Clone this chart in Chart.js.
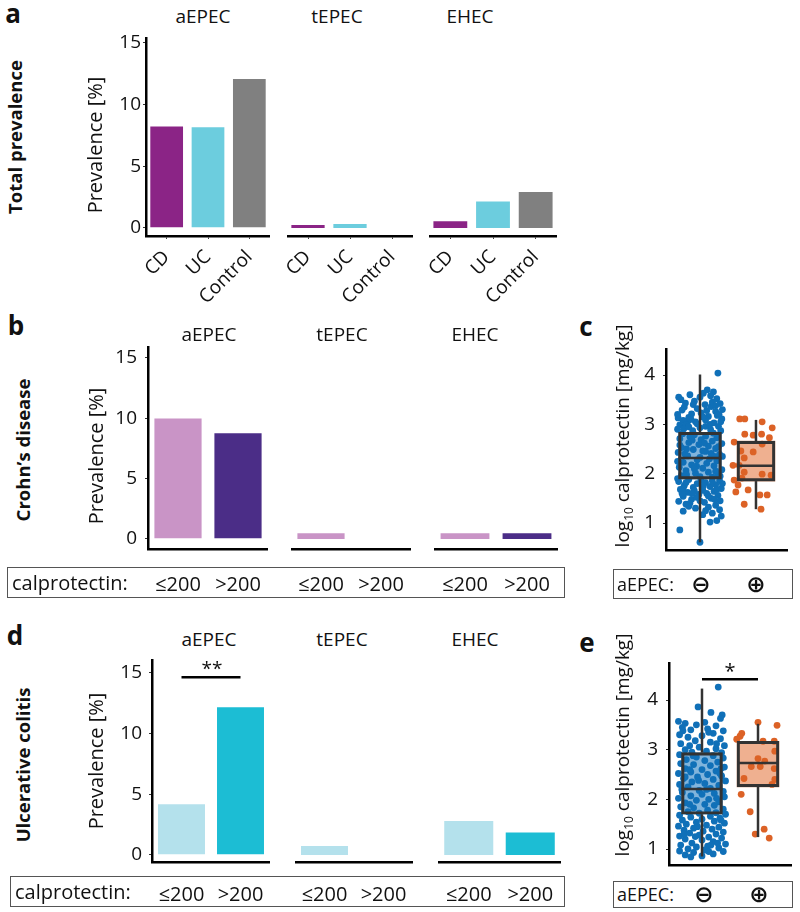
<!DOCTYPE html>
<html><head><meta charset="utf-8">
<script src="https://cdn.jsdelivr.net/npm/chart.js@4.4.0/dist/chart.umd.min.js"></script>
<style>
body{margin:0;width:800px;height:912px;background:#fff;position:relative;font-family:"Open Sans",sans-serif;color:#111;overflow:hidden}
.t{position:absolute;white-space:nowrap;line-height:1}
.c{transform:translate(-50%,-50%)}
.l{transform:translateY(-50%)}
.r{transform:translate(-50%,-50%) rotate(-90deg)}
.bold{font-weight:700}
.box{position:absolute;border:1px solid #555;box-sizing:border-box}
canvas{position:absolute}
.sym{font-family:"DejaVu Sans",sans-serif;font-weight:700;font-size:23px}
</style></head><body>
<script>
// ---------------- DATA ----------------
const pathogens = ['aEPEC', 'tEPEC', 'EHEC'];
const cohortLabels = ['CD', 'UC', 'Control'];
const calproLabels = ['≤200', '>200'];
const prevTicks = [0, 5, 10, 15];
const logTicks = [1, 2, 3, 4];

// panel a: total prevalence [%]
const totalAEPEC = [8.3, 8.24, 12.15];
const totalTEPEC = [0.33, 0.41, 0];
const totalEHEC = [0.63, 2.22, 3.0];

// panel b: Crohn's disease by calprotectin
const cdAEPEC = [10.07, 8.83];
const cdTEPEC = [0.55, 0];
const cdEHEC = [0.55, 0.55];

// panel d: ulcerative colitis by calprotectin
const ucAEPEC = [4.27, 12.25];
const ucTEPEC = [0.83, 0];
const ucEHEC = [2.89, 1.93];
const ucSignifLevel = 14.64;

// panel c / e box statistics: [lower whisker, Q1, median, Q3, upper whisker]
const cdBoxNeg = [0.61, 1.89, 2.32, 2.84, 4.01];
const cdBoxPos = [1.28, 1.85, 2.16, 2.66, 3.09];
const ucBoxNeg = [0.85, 1.70, 2.21, 2.94, 4.23];
const ucBoxPos = [1.24, 2.25, 2.73, 3.17, 3.52];
const ucSignifLog = 4.42;

// jittered observations [jitter, log10 calprotectin]
const cdPointsNeg = [
[0.32,4.04],[-0.38,3.55],[0.06,3.63],[0.13,3.7],[0.24,3.66],[0.19,3.58],[-0.1,3.47],[0.3,3.52],[-0.26,3.43],[0.09,3.4],[0.36,3.42],[-0.34,3.5],[0.0,3.55],[-0.18,3.6],
[-0.05,3.32],[0.2,3.36],[-0.32,3.29],[0.28,3.26],[-0.15,3.21],[0.02,3.23],[0.15,3.16],[-0.39,3.13],[0.39,3.11],[-0.22,3.06],[0.1,3.09],[0.25,3.03],[-0.05,3.01],[-0.36,2.99],[0.33,2.96],[-0.28,3.35],[0.4,3.3],[-0.12,3.4],[0.22,3.45],[-0.4,3.2],[0.05,3.15],[0.31,3.18],[-0.2,3.14],[-0.08,3.05],[0.18,3.0],[-0.3,3.08],[0.12,3.28],[-0.25,3.0],[0.37,3.05],[0.28,3.38],
[0.0,2.93],[-0.29,2.91],[0.19,2.89],[-0.13,2.87],[0.37,2.87],[-0.4,2.9],[0.1,2.96],[-0.2,2.95],
[-0.31,2.81],[-0.1,2.79],[0.1,2.76],[0.3,2.73],[-0.36,2.71],[0.02,2.69],[0.22,2.66],[-0.2,2.63],[0.39,2.61],[-0.02,2.59],[0.15,2.56],[-0.33,2.53],[0.28,2.51],[-0.12,2.49],[0.05,2.46],[-0.39,2.43],[0.2,2.41],[0.35,2.39],[-0.22,2.36],[0.0,2.33],[-0.05,2.28],[0.3,2.26],[-0.3,2.23],[0.12,2.21],[-0.15,2.18],[0.25,2.16],[-0.37,2.13],[0.05,2.11],[0.39,2.08],[-0.25,2.06],[0.15,2.03],[-0.08,2.01],[0.32,1.99],[-0.33,1.96],[0.0,1.94],[0.22,1.93],[-0.18,2.75],[0.08,2.62],[0.33,2.55],[-0.27,2.4],[0.17,2.3],[-0.06,2.15],[0.28,2.05],[-0.4,2.25],[0.4,2.35],[-0.14,2.68],[0.24,2.82],[-0.24,1.98],[0.1,2.45],[-0.36,2.58],
[-0.2,1.88],[0.35,1.86],[-0.38,1.84],[0.1,1.82],[-0.05,1.8],[0.28,1.78],[-0.28,1.76],[0.18,1.74],[-0.12,1.72],[0.38,1.7],[-0.35,1.68],[0.05,1.66],[0.25,1.64],[-0.22,1.62],[0.12,1.6],[-0.02,1.58],[0.32,1.56],[-0.3,1.54],[0.2,1.5],[-0.15,1.48],[0.36,1.45],[-0.38,1.44],[0.08,1.42],[-0.4,1.9],[0.02,1.87],[0.4,1.8],[-0.1,1.65],[0.3,1.68],[-0.32,1.6],[0.15,1.55],[-0.25,1.82],[0.22,1.85],[-0.06,1.52],
[-0.25,1.38],[0.28,1.36],[0.15,1.32],[-0.08,1.3],[0.35,1.27],[-0.3,1.24],[0.22,1.2],[0.05,1.17],[0.38,1.14],[0.3,1.05],[0.18,1.02],[-0.36,0.86],[0.0,0.61],[-0.18,1.4],[0.1,1.25],
[-0.16,3.1],[0.34,3.2],[-0.24,2.5],[0.26,2.35],[-0.1,2.1],[0.36,1.95],[-0.3,1.7],[0.06,1.75],[-0.14,1.6],[0.26,1.48],[-0.2,1.34],[0.0,1.45]
];
const cdPointsPos = [
[-0.29,3.11],[-0.2,3.11],[0.11,3.05],[0.29,2.93],[-0.2,2.8],[-0.05,2.78],[0.1,2.8],[0.24,2.73],[-0.39,2.64],[0.11,2.6],[-0.27,2.46],[-0.05,2.44],[-0.21,2.32],[-0.41,2.17],[-0.3,2.17],[-0.21,2.03],[0.11,1.99],[0.27,1.97],[-0.39,1.87],[-0.25,1.91],[-0.32,1.77],[-0.36,1.63],[-0.14,1.67],[0.07,1.57],[0.2,1.57],[-0.21,1.38],[0.09,1.28]
];
const ucPointsNeg = [
[0.29,4.26],[-0.07,3.86],[0.16,3.75],[0.36,3.7],[0.33,3.63],[-0.42,3.57],[-0.3,3.53],[-0.35,3.45],[0.05,3.55],[0.25,3.48],[-0.2,3.4],[0.1,3.42],[-0.1,3.5],[0.38,3.38],[-0.4,3.3],[0.2,3.33],[-0.25,3.25],[0.0,3.28],[0.33,3.22],[-0.12,3.18],[0.15,3.15],[-0.38,3.12],[0.4,3.08],[-0.05,3.05],[0.25,3.02],[-0.3,3.0],[0.08,2.97],[-0.18,2.95],[0.35,2.94],[0.12,3.35],[-0.22,3.08],
[-0.4,2.9],[0.2,2.88],[-0.1,2.85],[0.38,2.83],[-0.28,2.8],[0.05,2.78],[0.28,2.75],[-0.38,2.72],[-0.15,2.7],[0.15,2.68],[0.4,2.65],[-0.3,2.62],[0.0,2.6],[0.25,2.57],[-0.2,2.55],[-0.42,2.52],[0.1,2.5],[0.35,2.47],[-0.08,2.45],[-0.33,2.42],[0.2,2.4],[0.42,2.37],[-0.18,2.35],[0.05,2.32],[-0.4,2.3],[0.3,2.28],[-0.25,2.25],[0.15,2.22],[-0.05,2.18],[0.38,2.16],[-0.35,2.14],[0.22,2.12],[0.0,2.1],[-0.2,2.07],[0.4,2.05],[-0.42,2.02],[0.12,2.0],[-0.1,1.98],[0.3,1.95],[-0.3,1.93],[0.05,1.9],[0.22,1.88],[-0.38,1.85],[-0.15,1.83],[0.38,1.8],[0.1,1.78],[-0.25,1.75],[0.25,1.73],[-0.05,1.72],[0.42,1.7],[0.32,2.52],[-0.22,2.6],[0.08,2.2],[-0.3,2.45],
[-0.4,1.68],[0.15,1.66],[-0.2,1.64],[0.32,1.62],[0.0,1.6],[-0.35,1.58],[0.22,1.56],[-0.1,1.54],[0.4,1.52],[-0.28,1.5],[0.08,1.48],[-0.42,1.46],[0.3,1.44],[-0.15,1.42],[0.18,1.4],[-0.32,1.38],[0.02,1.36],[0.38,1.34],[-0.22,1.32],[0.25,1.3],[-0.05,1.28],[-0.4,1.26],[0.12,1.24],[0.35,1.22],[-0.3,1.2],[0.0,1.18],[0.2,1.15],[-0.18,1.12],[0.42,1.1],[-0.38,1.08],[0.1,1.06],[-0.1,1.04],[0.3,1.02],[-0.25,1.0],[0.05,0.98],[-0.4,0.96],[0.38,0.95],[-0.15,0.93],[0.2,0.9],[-0.3,0.88],[0.0,0.86],[-0.2,0.84],[0.12,0.95],[0.28,1.12],[-0.08,1.45],
[-0.34,3.38],[0.26,3.12],[-0.16,2.88],[0.34,2.62],[-0.06,2.38],[-0.36,2.2],[0.26,2.02],[-0.22,1.9],[0.34,1.58],[-0.12,1.25],[0.16,1.08],[-0.32,1.3]
];
const ucPointsPos = [
[0.0,3.55],[0.34,3.49],[-0.29,3.33],[-0.32,3.27],[-0.38,3.21],[0.09,3.17],[0.29,3.17],[0.3,2.97],[0.0,2.82],[0.12,2.77],[-0.12,2.66],[0.04,2.66],[0.29,2.62],[-0.25,2.42],[0.3,2.4],[0.25,2.3],[-0.3,2.1],[-0.14,1.75],[-0.05,1.3],[0.11,1.4],[0.2,1.22]
];

// colours
const colCD = '#8B2486', colUC = '#6CCDDE', colCtrl = '#808080';
const colCDlow = '#C994C6', colCDhigh = '#4B2D87';
const colUClow = '#B4E1EC', colUChigh = '#1CBDD4';
const colNeg = '#1070B8', colNegBox = '#80B4DC';
const colPos = '#DC6226', colPosBox = '#EFB090';

// ---------------- HELPERS ----------------
Chart.defaults.font.family = '"Open Sans", sans-serif';
Chart.defaults.color = '#111';

function addCanvas(x, y, w, h) {
  const c = document.createElement('canvas');
  c.width = w; c.height = h;
  c.style.left = x + 'px'; c.style.top = y + 'px';
  c.style.width = w + 'px'; c.style.height = h + 'px';
  document.body.appendChild(c);
  return c;
}
function addText(txt, x, y, cls, style) {
  const d = document.createElement('div');
  d.className = 't ' + cls;
  d.innerHTML = txt;
  d.style.left = x + 'px'; d.style.top = y + 'px';
  if (style) d.style.cssText += style;
  document.body.appendChild(d);
}
function addBox(x, y, w, h) {
  const d = document.createElement('div');
  d.className = 'box';
  d.style.left = x + 'px'; d.style.top = y + 'px';
  d.style.width = w + 'px'; d.style.height = h + 'px';
  document.body.appendChild(d);
}
function noPad(s) { s.paddingTop = 0; s.paddingBottom = 0; s.paddingLeft = 0; s.paddingRight = 0; }

function barPanel(o) {
  const c = addCanvas(o.x, o.y, o.w, o.h);
  const datasets = [{
    type: 'bar', data: o.values, backgroundColor: o.colors, grouped: false,
    borderColor: '#fff', borderWidth: 1, barPercentage: o.bp, categoryPercentage: 1, order: 2
  }];
  const scales = {
    x: {
      type: 'category', offset: true,
      border: {display: true, color: '#000', width: 2.5},
      grid: {display: o.xTicks, drawOnChartArea: false, offset: false, tickLength: 3, color: '#444'},
      ticks: {font: {size: o.xFont}, color: '#111', padding: o.xPad, maxRotation: o.rot, minRotation: o.rot, autoSkip: false},
      afterFit: s => { s.height = o.xH; noPad(s); }
    },
    y: {
      display: o.showY, min: o.min, max: o.max,
      border: {display: true, color: '#000', width: 2.5},
      grid: {drawOnChartArea: false, tickLength: 3, color: '#333'},
      ticks: {font: {size: 19}, color: '#111', padding: o.yPad},
      afterBuildTicks: s => { s.ticks = prevTicks.map(v => ({value: v})); },
      afterFit: s => { s.width = o.showY ? o.yW : 0; noPad(s); }
    }
  };
  if (o.sig !== undefined) {
    scales.xs = {type: 'linear', display: false, offset: false, min: -0.5, max: o.labels.length - 0.5,
                 afterFit: s => { s.height = 0; noPad(s); }};
    datasets.push({
      type: 'line', xAxisID: 'xs', data: [{x: 0, y: o.sig}, {x: 1, y: o.sig}],
      borderColor: '#000', borderWidth: 2.5, pointRadius: 0, order: 1, clip: false
    });
  }
  return new Chart(c, {
    type: 'bar',
    data: {labels: o.labels, datasets},
    options: {
      responsive: false, animation: false,
      layout: {autoPadding: false, padding: {top: o.padT, left: 0, right: 0, bottom: 0}},
      plugins: {legend: {display: false}, tooltip: {enabled: false}},
      scales
    }
  });
}

function boxPanel(o) {
  const c = addCanvas(o.x, o.y, o.w, o.h);
  const datasets = [];
  o.groups.forEach((g, i) => {
    const xc = i + 1;
    const [lo, q1, med, q3, hi] = g.stats;
    const hw = g.bw / 2 / o.pxPerUnit;
    datasets.push({type: 'bar', data: [{x: xc, y: [q1, q3]}], backgroundColor: g.fill, borderWidth: 0, barThickness: g.bw, grouped: false, order: 5});
    datasets.push({type: 'scatter', data: g.pts.map(p => ({x: xc + p[0], y: p[1]})), backgroundColor: g.pt, borderWidth: 0, pointRadius: 3.4, order: 4, clip: false});
    datasets.push({type: 'bar', data: [{x: xc, y: [q1, q3]}], backgroundColor: 'rgba(0,0,0,0)', borderColor: '#333', borderWidth: 2.5, borderSkipped: false, barThickness: g.bw, grouped: false, order: 3});
    const ln = {type: 'line', borderColor: '#333', borderWidth: 2.5, pointRadius: 0, order: 2, clip: false};
    datasets.push(Object.assign({data: [{x: xc, y: q3}, {x: xc, y: hi}]}, ln));
    datasets.push(Object.assign({data: [{x: xc, y: lo}, {x: xc, y: q1}]}, ln));
    datasets.push(Object.assign({data: [{x: xc - hw, y: med}, {x: xc + hw, y: med}]}, ln));
  });
  if (o.sig !== undefined) {
    datasets.push({type: 'line', data: [{x: 1, y: o.sig}, {x: 2, y: o.sig}], borderColor: '#000', borderWidth: 2.5, pointRadius: 0, order: 1, clip: false});
  }
  return new Chart(c, {
    type: 'scatter',
    data: {datasets},
    options: {
      responsive: false, animation: false,
      layout: {autoPadding: false, padding: {top: o.padT, left: 0, right: o.padR, bottom: 0}},
      plugins: {legend: {display: false}, tooltip: {enabled: false}},
      scales: {
        x: {type: 'linear', min: o.xmin, max: o.xmax, offset: false,
            border: {display: true, color: '#000', width: 2.5},
            grid: {display: false, offset: false}, ticks: {display: false},
            afterFit: s => { s.height = 4; noPad(s); }},
        y: {type: 'linear', min: o.ymin, max: o.ymax, beginAtZero: false,
            border: {display: true, color: '#000', width: 2.5},
            grid: {drawOnChartArea: false, tickLength: 3, color: '#333'},
            ticks: {font: {size: 19}, color: '#111', padding: 8},
            afterBuildTicks: s => { s.ticks = logTicks.map(v => ({value: v})); },
            afterFit: s => { s.width = 30; noPad(s); }}
      }
    }
  });
}

// ---------------- PANEL a ----------------
const colsA = [colCD, colUC, colCtrl];
const aCommon = {y: 32, h: 276, padT: 6, xH: 72, min: -0.65, max: 15.4, labels: cohortLabels, colors: colsA,
                 xTicks: true, xFont: 19, xPad: 7, rot: 45, yW: 40, yPad: 2, bp: 0.84};
barPanel(Object.assign({}, aCommon, {x: 106, w: 164, showY: true, values: totalAEPEC}));
barPanel(Object.assign({}, aCommon, {x: 287, w: 126, showY: false, values: totalTEPEC}));
barPanel(Object.assign({}, aCommon, {x: 429, w: 128, showY: false, values: totalEHEC}));

// ---------------- PANEL b ----------------
addBox(7, 567, 558, 31);
const colsB = [colCDlow, colCDhigh];
const bCommon = {y: 341, h: 256, padT: 6, xH: 48, min: -0.83, max: 15.9, labels: calproLabels, colors: colsB,
                 xTicks: false, xFont: 20, xPad: 21, rot: 0, yW: 40, yPad: 8, bp: 0.82};
barPanel(Object.assign({}, bCommon, {x: 108, w: 160, showY: true, values: cdAEPEC}));
barPanel(Object.assign({}, bCommon, {x: 291, w: 120, showY: false, values: cdTEPEC}));
barPanel(Object.assign({}, bCommon, {x: 434, w: 124, showY: false, values: cdEHEC}));

// ---------------- PANEL d ----------------
addBox(10, 876, 555, 31);
const colsD = [colUClow, colUChigh];
const dCommon = {y: 654, h: 253, padT: 6, xH: 45, min: -0.58, max: 16.07, labels: calproLabels, colors: colsD,
                 xTicks: false, xFont: 20, xPad: 18, rot: 0, yW: 40, yPad: 7, bp: 0.83};
barPanel(Object.assign({}, dCommon, {x: 112, w: 158, showY: true, values: ucAEPEC, sig: ucSignifLevel}));
barPanel(Object.assign({}, dCommon, {x: 295, w: 118, showY: false, values: ucTEPEC}));
barPanel(Object.assign({}, dCommon, {x: 438, w: 123, showY: false, values: ucEHEC}));

// ---------------- PANEL c ----------------
boxPanel({x: 636, y: 344, w: 155, h: 210, padT: 5, padR: 4, xmin: 0.393, xmax: 2.554, ymin: 0.453, ymax: 4.527, pxPerUnit: 56,
  groups: [
    {stats: cdBoxNeg, pts: cdPointsNeg, pt: colNeg, fill: colNegBox, bw: 43},
    {stats: cdBoxPos, pts: cdPointsPos, pt: colPos, fill: colPosBox, bw: 38}
  ]});
addBox(613, 569, 180, 30);

// ---------------- PANEL e ----------------
boxPanel({x: 639, y: 658, w: 156, h: 211, padT: 5, padR: 4, xmin: 0.411, xmax: 2.589, ymin: 0.678, ymax: 4.745, pxPerUnit: 56, sig: ucSignifLog,
  groups: [
    {stats: ucBoxNeg, pts: ucPointsNeg, pt: colNeg, fill: colNegBox, bw: 41},
    {stats: ucBoxPos, pts: ucPointsPos, pt: colPos, fill: colPosBox, bw: 42}
  ]});
addBox(613, 881, 180, 27);

// ---------------- TEXT ----------------
addText('a', 13, 13, 'c bold', 'font-size:26px');
addText('b', 16, 325, 'c bold', 'font-size:26px');
addText('c', 586, 326, 'c bold', 'font-size:26px');
addText('d', 15, 635, 'c bold', 'font-size:26px');
addText('e', 587, 642, 'c bold', 'font-size:26px');

[[203, 337, 470, 16], [209, 342, 475, 334], [209, 342, 475, 639]].forEach(r => {
  pathogens.forEach((p, i) => addText(p, r[i], r[3], 'c', 'font-size:19px'));
});

addText('Total prevalence', 15, 137, 'r bold', 'font-size:18.5px');
addText('Crohn’s disease', 23, 450, 'r bold', 'font-size:18.5px');
addText('Ulcerative colitis', 23, 765, 'r bold', 'font-size:18.5px');

addText('Prevalence [%]', 95, 145, 'r', 'font-size:20px');
addText('Prevalence [%]', 96, 456, 'r', 'font-size:20px');
addText('Prevalence [%]', 96, 761, 'r', 'font-size:20px');

addText('log<sub style="font-size:12px">10</sub> calprotectin [mg/kg]', 624, 436, 'r', 'font-size:19px');
addText('log<sub style="font-size:12px">10</sub> calprotectin [mg/kg]', 624, 745, 'r', 'font-size:19px');

addText('calprotectin:', 12, 583, 'l', 'font-size:20px');
addText('calprotectin:', 15, 892, 'l', 'font-size:20px');

addText('**', 212, 668, 'c', 'font-size:19px');
addText('*', 730, 671, 'c', 'font-size:20px');

addText('aEPEC:', 617, 584, 'l', 'font-size:18px');
addText('⊖', 701, 584, 'c sym', '');
addText('⊕', 756, 584, 'c sym', '');
addText('aEPEC:', 617, 894, 'l', 'font-size:18px');
addText('⊖', 704, 894, 'c sym', '');
addText('⊕', 759, 894, 'c sym', '');
</script>
</body></html>
